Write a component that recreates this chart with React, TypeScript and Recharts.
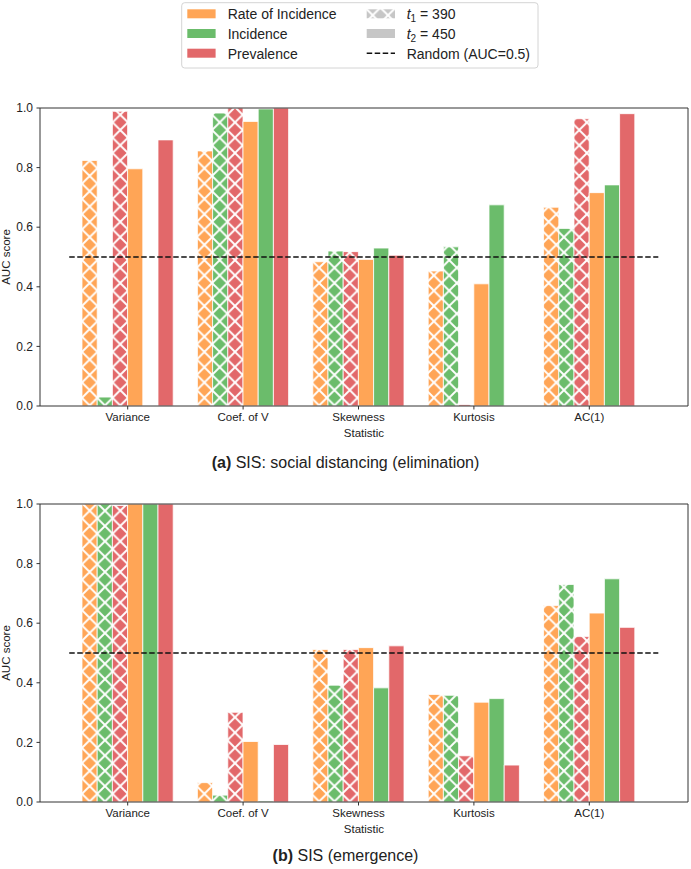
import React from 'react';
import { BarChart, Bar, XAxis, YAxis, ReferenceLine } from 'recharts';

const statistics = ['Variance', 'Coef. of V', 'Skewness', 'Kurtosis', 'AC(1)'];
const yTicks = [0, 0.2, 0.4, 0.6, 0.8, 1.0];

// (a) SIS: social distancing (elimination)
const elimRateT1 = [0.824, 0.856, 0.484, 0.453, 0.667];
const elimIncT1 = [0.03, 0.983, 0.52, 0.534, 0.596];
const elimPrevT1 = [0.989, 1.0, 0.518, 0.005, 0.964];
const elimRateT2 = [0.796, 0.955, 0.492, 0.41, 0.716];
const elimIncT2 = [0, 0.997, 0.53, 0.675, 0.742];
const elimPrevT2 = [0.893, 1.0, 0.506, 0, 0.981];

// (b) SIS (emergence)
const emerRateT1 = [1.0, 0.065, 0.512, 0.361, 0.659];
const emerIncT1 = [1.0, 0.023, 0.392, 0.358, 0.73];
const emerPrevT1 = [0.995, 0.301, 0.512, 0.155, 0.555];
const emerRateT2 = [1.0, 0.203, 0.518, 0.335, 0.634];
const emerIncT2 = [1.0, 0.003, 0.383, 0.347, 0.749];
const emerPrevT2 = [1.0, 0.193, 0.524, 0.124, 0.586];

const ORANGE = '#ffa556';
const GREEN = '#6bbc6b';
const RED = '#e2686a';
const GRAY = '#c6c6c6';
const FONT = '"Liberation Sans", Arial, Helvetica, sans-serif';
const TEXT = '#222';
const AXIS = '#333';

const buildRows = (r1: number[], i1: number[], p1: number[], r2: number[], i2: number[], p2: number[]) =>
  statistics.map((stat, k) => ({
    stat,
    idx: k,
    rateT1: r1[k],
    incT1: i1[k],
    prevT1: p1[k],
    rateT2: r2[k],
    incT2: i2[k],
    prevT2: p2[k],
  }));

const elimRows = buildRows(elimRateT1, elimIncT1, elimPrevT1, elimRateT2, elimIncT2, elimPrevT2);
const emerRows = buildRows(emerRateT1, emerIncT1, emerPrevT1, emerRateT2, emerIncT2, emerPrevT2);

// 'x' hatch tile
const P = 15.3;
const hatchPath = [-1, 0, 1]
  .map(k => `M-2,${-2 + k * P}L${P + 2},${P + 2 + k * P}M-2,${P + 2 + k * P}L${P + 2},${-2 + k * P}`)
  .join('');

const Hatch = ({ id, color }: { id: string; color: string }) => (
  <pattern id={id} patternUnits="userSpaceOnUse" x={82} y={0} width={P} height={P}>
    <rect width={P} height={P} fill={color} />
    <path d={hatchPath} stroke="#fff" strokeWidth={1.9} fill="none" />
  </pattern>
);

const tickStyle = { fontSize: 11.5, fill: TEXT, fontFamily: FONT };

const Panel = ({ prefix, rows }: { prefix: string; rows: any[] }) => (
  <BarChart
    width={691}
    height={440}
    data={rows}
    margin={{ top: 107, right: 2, bottom: 3, left: 0 }}
    barSize={15.2}
    barGap={0}
  >
    <defs>
      <Hatch id={`${prefix}-o`} color={ORANGE} />
      <Hatch id={`${prefix}-g`} color={GREEN} />
      <Hatch id={`${prefix}-r`} color={RED} />
    </defs>
    <XAxis
      dataKey="stat"
      interval={0}
      padding={{ left: 30, right: 41 }}
      height={31}
      tickSize={3.5}
      tickMargin={3.8}
      tick={tickStyle}
      axisLine={{ stroke: AXIS }}
      tickLine={{ stroke: AXIS }}
      label={{ value: 'Statistic', position: 'insideBottom', offset: 0, fontSize: 11.5, fill: TEXT, fontFamily: FONT }}
    />
    <XAxis xAxisId="top" dataKey="stat" orientation="top" height={1} tick={false} tickLine={false} axisLine={{ stroke: AXIS }} />
    <XAxis xAxisId="num" dataKey="idx" type="number" domain={[-0.753, 4.857]} allowDataOverflow hide />
    <YAxis
      domain={[0, 1]}
      ticks={yTicks}
      width={40}
      tickSize={3.5}
      tickMargin={3.5}
      tick={{ ...tickStyle, fontSize: 12 }}
      tickFormatter={(v: number) => v.toFixed(1)}
      axisLine={{ stroke: AXIS }}
      tickLine={{ stroke: AXIS }}
      label={{
        value: 'AUC score',
        angle: -90,
        position: 'insideLeft',
        offset: 6,
        fontSize: 11.5,
        fill: TEXT,
        fontFamily: FONT,
        style: { textAnchor: 'middle' },
      }}
    />
    <YAxis yAxisId="right" orientation="right" width={1} domain={[0, 1]} tick={false} tickLine={false} axisLine={{ stroke: AXIS }} />
    <Bar dataKey="rateT1" fill={`url(#${prefix}-o)`} stroke="#fff" strokeWidth={0.8} isAnimationActive={false} />
    <Bar dataKey="incT1" fill={`url(#${prefix}-g)`} stroke="#fff" strokeWidth={0.8} isAnimationActive={false} />
    <Bar dataKey="prevT1" fill={`url(#${prefix}-r)`} stroke="#fff" strokeWidth={0.8} isAnimationActive={false} />
    <Bar dataKey="rateT2" fill={ORANGE} stroke="#fff" strokeWidth={0.8} isAnimationActive={false} />
    <Bar dataKey="incT2" fill={GREEN} stroke="#fff" strokeWidth={0.8} isAnimationActive={false} />
    <Bar dataKey="prevT2" fill={RED} stroke="#fff" strokeWidth={0.8} isAnimationActive={false} />
    <ReferenceLine
      xAxisId="num"
      segment={[{ x: -0.5, y: 0.5 }, { x: 4.6, y: 0.5 }]}
      stroke="#111"
      strokeWidth={1.5}
      strokeDasharray="5.5 2.5"
      ifOverflow="visible"
    />
  </BarChart>
);

const LegendBox = () => (
  <svg width={691} height={72} style={{ position: 'absolute', left: 0, top: 0 }} fontFamily={FONT} fontSize={14}>
    <defs>
      <Hatch id="leg-gray" color={GRAY} />
    </defs>
    <rect x={181.7} y={2.7} width={356.3} height={65.3} rx={3} fill="#fff" stroke="#d4d4d4" strokeWidth={1} />
    <rect x={187.3} y={9.3} width={28.3} height={9} fill={ORANGE} />
    <text x={227.7} y={19.3} fill={TEXT}>Rate of Incidence</text>
    <rect x={187.3} y={29} width={28.3} height={9} fill={GREEN} />
    <text x={227.7} y={39.1} fill={TEXT}>Incidence</text>
    <rect x={187.3} y={48.7} width={28.3} height={9} fill={RED} />
    <text x={227.7} y={58.9} fill={TEXT}>Prevalence</text>

    <rect x={366.7} y={9.3} width={28.3} height={9} fill="url(#leg-gray)" />
    <text x={406.7} y={19.3} fill={TEXT}>
      <tspan fontStyle="italic">t</tspan>
      <tspan fontSize={10} dy={3}>1</tspan>
      <tspan dy={-3}> = 390</tspan>
    </text>
    <rect x={366.7} y={29} width={28.3} height={9} fill={GRAY} />
    <text x={406.7} y={39.1} fill={TEXT}>
      <tspan fontStyle="italic">t</tspan>
      <tspan fontSize={10} dy={3}>2</tspan>
      <tspan dy={-3}> = 450</tspan>
    </text>
    <line x1={366.7} y1={53.3} x2={395} y2={53.3} stroke="#111" strokeWidth={1.5} strokeDasharray="5.5 2.5" />
    <text x={406.7} y={58.9} fill={TEXT}>Random (AUC=0.5)</text>
  </svg>
);

const captionStyle: React.CSSProperties = {
  position: 'absolute',
  left: 0,
  width: 691,
  textAlign: 'center',
  fontFamily: FONT,
  fontSize: 16,
  lineHeight: '16px',
  color: TEXT,
};

export default function App() {
  return (
    <div style={{ position: 'relative', width: 691, height: 869, background: '#fff', overflow: 'hidden' }}>
      <style>{'body{margin:0}'}</style>
      <div style={{ position: 'absolute', left: 0, top: 0 }}>
        <Panel prefix="a" rows={elimRows} />
      </div>
      <div style={{ position: 'absolute', left: 0, top: 396 }}>
        <Panel prefix="b" rows={emerRows} />
      </div>
      <LegendBox />
      <div style={{ ...captionStyle, top: 454.5 }}>
        <b>(a)</b> SIS: social distancing (elimination)
      </div>
      <div style={{ ...captionStyle, top: 847.5 }}>
        <b>(b)</b> SIS (emergence)
      </div>
    </div>
  );
}
